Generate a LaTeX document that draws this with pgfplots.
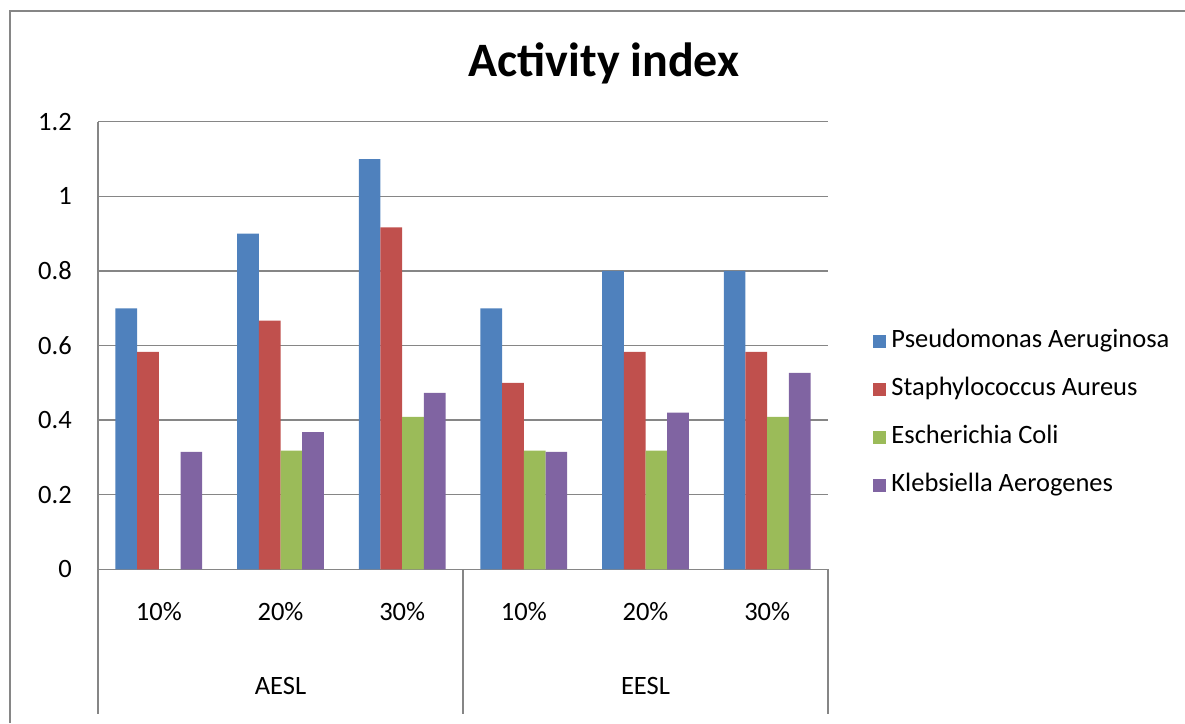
\documentclass[border=0pt]{standalone}
\usepackage{fontspec}
\setmainfont{Carlito}
\usepackage{pgfplots}
\usepackage{pgfplotstable}
\pgfplotsset{compat=1.18}

\definecolor{paBlue}{RGB}{79,129,189}
\definecolor{saRed}{RGB}{192,80,77}
\definecolor{ecGreen}{RGB}{155,187,89}
\definecolor{kaPurple}{RGB}{128,100,162}
\definecolor{lineGray}{RGB}{134,134,134}

% Activity index per extract and concentration
\pgfplotstableread{
x   pa    sa     ec     ka
0   0.7   0.583  0      0.315
1   0.9   0.667  0.318  0.368
2   1.1   0.917  0.409  0.473
3   0.7   0.5    0.318  0.315
4   0.8   0.583  0.318  0.42
5   0.8   0.583  0.409  0.527
}\activity

\newcommand{\labelfont}{\fontsize{26.5}{32}\selectfont}

\begin{document}
\begin{tikzpicture}[x=1pt,y=1pt]
\useasboundingbox (0,0) rectangle (1185,723);
% chart frame
\draw[lineGray, line width=1.5pt] (10,0) -- (10,712) -- (1185,712);

\begin{axis}[
  at={(98pt,153.7pt)}, anchor=south west,
  scale only axis, width=730pt, height=447.5pt,
  xmin=-0.5, xmax=5.5, ymin=0, ymax=1.2,
  ybar=0pt, bar width=21.7pt,
  axis x line*=bottom, axis y line*=left,
  axis line style={-, lineGray, line width=1.5pt},
  ymajorgrids, grid style={lineGray, line width=1.4pt},
  major tick length=0pt,
  ytick={0,0.2,0.4,0.6,0.8,1,1.2},
  xtick={0,1,2,3,4,5},
  xticklabels={10\%,20\%,30\%,10\%,20\%,30\%},
  /pgf/number format/assume math mode=true,
  tick label style={font=\labelfont, inner sep=0pt},
  yticklabel style={anchor=east, xshift=-26pt},
  xticklabel style={anchor=base, yshift=-51pt},
  clip=false,
  legend style={
    at={(rel axis cs:1.062,0.534)}, anchor=north west,
    draw=none, fill=none, inner sep=0pt,
    font=\labelfont,
    row sep=26pt, column sep=5pt,
    nodes={inner sep=0pt, text height=17pt, text depth=5pt},
    legend cell align=left,
  },
  legend image code/.code={\fill[#1,draw=none] (0pt,-6.5pt) rectangle (13pt,6.5pt);},
]
\addplot[fill=paBlue, draw=none] table[x=x, y=pa] {\activity};
\addplot[fill=saRed, draw=none] table[x=x, y=sa] {\activity};
\addplot[fill=ecGreen, draw=none] table[x=x, y=ec] {\activity};
\addplot[fill=kaPurple, draw=none] table[x=x, y=ka] {\activity};
\legend{Pseudomonas Aeruginosa, Staphylococcus Aureus, Escherichia Coli, Klebsiella Aerogenes}

% group separators and group names of the category axis
\draw[lineGray, line width=1.5pt] (axis cs:-0.5,0) -- ++(0pt,-145pt);
\draw[lineGray, line width=1.5pt] (axis cs:2.5,0) -- ++(0pt,-145pt);
\draw[lineGray, line width=1.5pt] (axis cs:5.5,0) -- ++(0pt,-145pt);
\node[anchor=base, font=\labelfont, inner sep=0pt] at ([yshift=-125pt]axis cs:1,0) {AESL};
\node[anchor=base, font=\labelfont, inner sep=0pt] at ([yshift=-125pt]axis cs:4,0) {EESL};
\end{axis}

\node[anchor=base, inner sep=0pt, font=\fontsize{48}{58}\selectfont\bfseries] at (604,646.3) {Activity index};
\end{tikzpicture}
\end{document}
